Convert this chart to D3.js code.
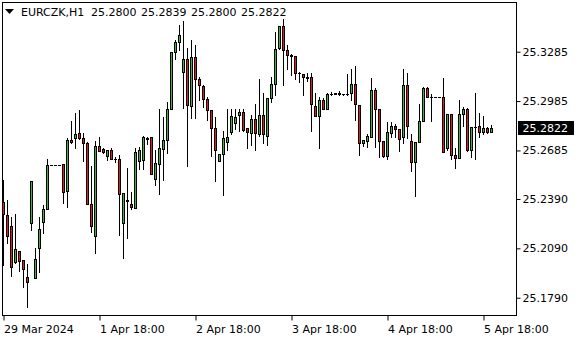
<!DOCTYPE html>
<html><head><meta charset="utf-8">
<script src="https://cdn.jsdelivr.net/npm/d3@7"></script>
<style>
body{margin:0;background:#fff}
svg{display:block}
text{font-family:"DejaVu Sans",sans-serif;font-size:11px;fill:#000}
</style>
</head><body>
<svg id="c" width="580" height="340"></svg>
<script>
const symbol = "EURCZK,H1";
const headerValues = ["25.2800","25.2839","25.2800","25.2822"];
const open = [
25.2370,25.2291,25.2224,25.2005,25.2072,25.2017,25.1914,25.2242,25.1908,25.2090,
25.2248,25.2327,25.2595,25.2595,25.2595,25.2601,25.2437,25.2748,25.2759,25.2789,
25.2759,25.2728,25.2358,25.2167,25.2710,25.2692,25.2649,25.2686,25.2633,25.2632,
25.2247,25.2381,25.2358,25.2337,25.2621,25.2625,25.2758,25.2765,25.2513,25.2604,
25.2696,25.2747,25.2935,25.3283,25.3344,25.3159,25.3239,25.2958,25.3251,25.3117,
25.3077,25.2995,25.2929,25.2824,25.2623,25.2661,25.2738,25.2800,25.2849,25.2903,
25.2919,25.2823,25.2788,25.2875,25.2785,25.2899,25.2770,25.3004,25.3091,25.3305,
25.3439,25.3294,25.3268,25.3259,25.3153,25.3148,25.3128,25.3129,25.2953,25.2897,
25.2992,25.2935,25.3031,25.3032,25.3032,25.3026,25.3028,25.3032,25.3089,25.2961,
25.2732,25.2744,25.2767,25.3052,25.2938,25.2744,25.2653,25.2793,25.2834,25.2813,
25.2764,25.3081,25.2742,25.2617,25.2734,25.2862,25.3064,25.3008,25.3008,25.3008,
25.3008,25.2702,25.2906,25.2657,25.2642,25.2905,25.2937,25.2688,25.2829,25.2834,
25.2799,25.2820,25.2800];
const high = [
25.2505,25.2384,25.2282,25.2299,25.2074,25.2019,25.1995,25.2497,25.2090,25.2279,
25.2353,25.2633,25.2595,25.2595,25.2595,25.2601,25.2759,25.2864,25.2914,25.2931,
25.2789,25.2738,25.2590,25.2742,25.2767,25.2698,25.2686,25.2700,25.2645,25.2657,
25.2425,25.2578,25.2432,25.2700,25.2706,25.2773,25.2767,25.2765,25.2686,25.2935,
25.2888,25.2979,25.3281,25.3354,25.3445,25.3470,25.3308,25.3356,25.3326,25.3134,
25.3083,25.3008,25.2931,25.2891,25.2663,25.2803,25.2935,25.2935,25.2935,25.2935,
25.2935,25.2823,25.2899,25.2965,25.3117,25.3036,25.3004,25.3133,25.3405,25.3439,
25.3484,25.3324,25.3269,25.3261,25.3162,25.3149,25.3154,25.3154,25.3032,25.3010,
25.3006,25.3032,25.3040,25.3037,25.3044,25.3031,25.3149,25.3177,25.3198,25.2961,
25.2748,25.2785,25.3123,25.3064,25.2938,25.2744,25.2858,25.2858,25.2846,25.2813,
25.3178,25.3154,25.2785,25.2734,25.2968,25.3072,25.3072,25.3031,25.3008,25.3008,
25.3123,25.2906,25.2906,25.2698,25.2992,25.2947,25.2945,25.2829,25.3036,25.2914,
25.2894,25.2827,25.2839];
const low = [
25.1989,25.2121,25.1924,25.1999,25.1954,25.1853,25.1732,25.2201,25.1908,25.1948,
25.2185,25.2327,25.2595,25.2595,25.2595,25.2364,25.2339,25.2728,25.2698,25.2754,
25.2623,25.2358,25.2191,25.2064,25.2680,25.2671,25.2627,25.2631,25.2617,25.2174,
25.2031,25.2150,25.2331,25.2337,25.2570,25.2574,25.2722,25.2544,25.2473,25.2422,
25.2507,25.2669,25.2935,25.3243,25.3294,25.2943,25.2593,25.2882,25.2885,25.2992,
25.2951,25.2870,25.2651,25.2502,25.2623,25.2417,25.2686,25.2783,25.2817,25.2805,
25.2805,25.2700,25.2720,25.2689,25.2770,25.2730,25.2720,25.2979,25.3024,25.3303,
25.3083,25.3182,25.3143,25.3122,25.3103,25.3022,25.3109,25.2805,25.2897,25.2702,
25.2935,25.2935,25.3020,25.3025,25.3020,25.3022,25.3022,25.2992,25.2872,25.2657,
25.2712,25.2704,25.2765,25.2704,25.2647,25.2643,25.2635,25.2768,25.2768,25.2683,
25.2732,25.2761,25.2562,25.2408,25.2734,25.2862,25.3008,25.2862,25.3008,25.3008,
25.2677,25.2688,25.2631,25.2576,25.2641,25.2835,25.2679,25.2647,25.2631,25.2768,
25.2785,25.2793,25.2800];
const close = [
25.2297,25.2165,25.1975,25.2084,25.2011,25.1963,25.1884,25.2497,25.2023,25.2206,
25.2329,25.2595,25.2595,25.2595,25.2595,25.2431,25.2748,25.2738,25.2785,25.2759,
25.2728,25.2358,25.2224,25.2710,25.2680,25.2676,25.2686,25.2631,25.2634,25.2418,
25.2425,25.2379,25.2343,25.2676,25.2686,25.2765,25.2756,25.2544,25.2610,25.2700,
25.2748,25.2935,25.3281,25.3342,25.3387,25.3239,25.2962,25.3251,25.3117,25.3080,
25.2995,25.2929,25.2824,25.2686,25.2662,25.2759,25.2765,25.2897,25.2888,25.2917,
25.2807,25.2798,25.2875,25.2788,25.2899,25.2783,25.3002,25.3089,25.3300,25.3439,
25.3294,25.3262,25.3257,25.3153,25.3154,25.3129,25.3129,25.2965,25.2897,25.2992,
25.2935,25.3027,25.3029,25.3031,25.3031,25.3026,25.3029,25.3089,25.2967,25.2732,
25.2748,25.2773,25.3052,25.2938,25.2744,25.2653,25.2797,25.2834,25.2817,25.2756,
25.3081,25.2835,25.2612,25.2734,25.2864,25.3064,25.3008,25.3008,25.3008,25.3008,
25.2677,25.2906,25.2659,25.2642,25.2906,25.2937,25.2688,25.2829,25.2828,25.2799,
25.2820,25.2795,25.2822];
const xTickIndex = [0,24,48,72,96,120];
const xTickLabels = ["29 Mar 2024","1 Apr 18:00","2 Apr 18:00","3 Apr 18:00","4 Apr 18:00","5 Apr 18:00"];
const yTickValues = [25.3285,25.2985,25.2685,25.2390,25.2090,25.1790];
const yTickLabels = ["25.3285","25.2985","25.2685","25.2390","25.2090","25.1790"];
const lastPrice = 25.2822;
const lastLabel = "25.2822";

(function draw() {
const W = 580, H = 340;
const pL = 2, pT = 2, pR = 516, pB = 315;
const bull = "#3fb23f", bear = "#e01c1c";

const svg = d3.select("#c");
svg.append("rect").attr("width", W).attr("height", H).attr("fill", "#fff");

const n = open.length;
const x = d3.scaleLinear().domain([0, n - 1]).range([3.5, 3.5 + 4 * (n - 1)]);
const y = d3.scaleLinear().domain([25.1685, 25.3581]).range([315, 3]);

svg.append("clipPath").attr("id", "clip").append("rect")
  .attr("x", pL + 0.5).attr("y", pT + 0.5).attr("width", pR - pL).attr("height", pB - pT);

const plot = svg.append("g").attr("clip-path", "url(#clip)");
const data = d3.range(n).map(i => ({i, o: open[i], h: high[i], l: low[i], c: close[i]}));

const g = plot.selectAll("g.candle").data(data).join("g").attr("class", "candle");
g.append("line")
  .attr("x1", d => x(d.i)).attr("x2", d => x(d.i))
  .attr("y1", d => Math.round(y(d.h)))
  .attr("y2", d => Math.round(y(d.l)) + 1)
  .attr("stroke", "#000").attr("stroke-width", 1);
g.each(function(d) {
  const sel = d3.select(this);
  const yt = Math.round(y(Math.max(d.o, d.c)));
  const yb = Math.round(y(Math.min(d.o, d.c)));
  const cx = x(d.i);
  if (yb - yt < 1) {
    sel.append("line").attr("x1", cx - 1.5).attr("x2", cx + 1.5)
      .attr("y1", yt + 0.5).attr("y2", yt + 0.5).attr("stroke", "#000");
  } else {
    sel.append("rect").attr("x", cx - 1).attr("y", yt + 0.5)
      .attr("width", 2).attr("height", yb - yt)
      .attr("fill", d.c >= d.o ? bull : bear)
      .attr("stroke", "#000").attr("stroke-width", 1);
  }
});

svg.append("rect").attr("x", pL + 0.5).attr("y", pT + 0.5)
  .attr("width", pR - pL).attr("height", pB - pT)
  .attr("fill", "none").attr("stroke", "#000");

const yAxis = svg.append("g").attr("transform", `translate(${pR + 0.5},0)`)
  .call(d3.axisRight(y).tickValues(yTickValues).tickFormat((d, i) => yTickLabels[i]).tickSize(4).tickPadding(2));
yAxis.select(".domain").remove();
yAxis.selectAll("text").attr("font-family", "DejaVu Sans").attr("font-size", 11).attr("fill", "#000");
yAxis.selectAll("line").attr("stroke", "#000");

const xAxis = svg.append("g").attr("transform", `translate(0,${pB + 0.5})`)
  .call(d3.axisBottom(x).tickValues(xTickIndex).tickFormat((d, i) => xTickLabels[i]).tickSize(5));
xAxis.select(".domain").remove();
xAxis.selectAll("line").attr("stroke", "#000");
xAxis.selectAll("text").attr("text-anchor", "start").attr("x", 0).attr("y", 17.5).attr("dy", null)
  .attr("font-family", "DejaVu Sans").attr("font-size", 11).attr("fill", "#000");

const ly = y(lastPrice);
svg.append("rect").attr("x", 518).attr("y", Math.round(ly) - 7).attr("width", 56).attr("height", 14).attr("fill", "#000");
svg.append("text").attr("x", 522.5).attr("y", Math.round(ly) + 4).style("fill", "#fff").text(lastLabel);

svg.append("path").attr("d", "M5,9 L14,9 L9.5,14 Z").attr("fill", "#000");
svg.append("text").attr("x", 21).attr("y", 16).text(symbol);
const hx = [91, 141, 191, 241];
headerValues.forEach((v, i) => svg.append("text").attr("x", hx[i]).attr("y", 16).text(v));
})();
</script>
</body></html>
